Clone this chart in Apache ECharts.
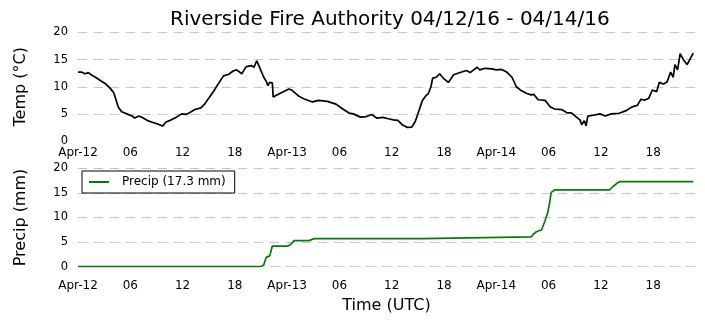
<!DOCTYPE html>
<html>
<head>
<meta charset="utf-8">
<script src="https://cdn.jsdelivr.net/npm/echarts@6/dist/echarts.min.js"></script>
<style>
  html, body { margin: 0; padding: 0; background: #fff; }
  #chart { width: 705px; height: 328px; }
</style>
</head>
<body>
<div id="chart"></div>
<script>
// Hours since 2016-04-12 00:00 UTC
const tickLabels = ['Apr-12', '06', '12', '18', 'Apr-13', '06', '12', '18', 'Apr-14', '06', '12', '18'];

const tempHours = [0.0, 0.4, 0.8, 1.2, 1.6, 2.0, 2.6, 3.2, 3.7, 4.1, 4.4, 4.6, 5.0, 5.6, 6.2, 6.5, 7.0, 7.5, 8.0, 8.6, 9.2, 9.7,
  10.1, 10.7, 11.3, 11.9, 12.4, 12.8, 13.4, 14.1, 14.5, 15.1, 15.6, 16.2, 16.7, 17.3, 17.8, 18.2, 18.8, 19.3, 19.9,
  20.2, 20.5, 20.8, 21.3, 21.6, 21.8, 22.0, 22.3, 22.4, 23.1, 24.2, 24.6, 25.3, 25.9, 26.9, 27.6, 28.6, 29.6,
  30.3, 31.1, 31.6, 32.4, 33.1, 33.7, 34.3, 35.0, 35.6, 36.2, 36.7, 37.2, 37.8, 38.3, 38.7, 39.1, 39.5, 39.9,
  40.2, 40.5, 40.7, 41.1, 41.5, 41.9, 42.5, 43.1, 43.6, 44.2, 44.6, 45.0, 45.4, 45.8, 46.1, 46.7, 47.5, 48.0,
  48.6, 49.2, 49.8, 50.3, 50.9, 51.5, 52.0, 52.3, 52.8, 53.6, 54.2, 54.7, 55.5, 56.1, 56.6, 57.2, 57.6, 57.8,
  58.1, 58.3, 58.5, 59.1, 59.9, 60.5, 61.2, 62.1, 62.9, 63.6, 64.2, 64.6, 65.0, 65.5, 65.9, 66.4, 66.7, 67.2,
  67.6, 68.0, 68.3, 68.5, 68.8, 69.1, 69.5, 69.9, 70.1, 70.6];
const tempValues = [12.7, 12.7, 12.4, 12.6, 12.1, 11.75, 11.1, 10.5, 9.7, 8.9, 7.4, 6.3, 5.4, 5.0, 4.6, 4.25, 4.6, 4.25, 3.75, 3.4, 3.1, 2.75,
  3.5, 3.9, 4.4, 5.0, 4.9, 5.2, 5.8, 6.1, 6.75, 8.1, 9.25, 10.8, 12.0, 12.3, 12.9, 13.1, 12.4, 13.7, 13.9,
  13.6, 14.8, 13.7, 11.8, 11.0, 10.2, 10.8, 10.7, 8.1, 8.7, 9.6, 9.3, 8.3, 7.8, 7.2, 7.5, 7.3, 6.8,
  6.0, 5.15, 5.0, 4.4, 4.5, 4.9, 4.2, 4.35, 4.1, 3.9, 3.8, 3.0, 2.5, 2.55, 3.6, 5.5, 7.4, 8.3,
  8.75, 10.0, 11.6, 11.75, 12.4, 11.6, 10.8, 12.2, 12.5, 12.8, 13.0, 12.6, 13.1, 13.6, 13.1, 13.4, 13.3, 13.1,
  13.2, 12.7, 11.75, 10.0, 9.25, 8.75, 8.5, 8.6, 7.6, 7.5, 6.25, 5.9, 5.8, 5.2, 5.2, 4.4, 3.9, 3.0,
  3.75, 2.8, 4.6, 4.75, 5.0, 4.6, 5.0, 5.1, 5.6, 6.3, 6.6, 7.7, 7.5, 7.9, 9.4, 9.1, 10.8, 10.5,
  10.9, 12.7, 11.75, 14.1, 13.1, 16.1, 14.9, 14.1, 14.0, 16.2];

const precipHours = [0, 20.9, 21.3, 21.6, 22.0, 22.3, 24.1, 24.4, 24.8, 26.5, 26.8, 27.1, 39.4, 39.6, 52.0, 52.2, 52.6, 53.2,
  53.6, 53.9, 54.1, 54.3, 54.7, 61.0, 61.4, 61.8, 62.2, 70.6];
const precipValues = [0, 0, 0.3, 1.9, 2.2, 4.2, 4.2, 4.5, 5.3, 5.3, 5.5, 5.7, 5.7, 6.05, 6.05, 6.5, 7.1, 7.5,
  9.4, 11.0, 12.8, 15.1, 15.6, 15.6, 16.3, 16.9, 17.3, 17.3];

const precipTotal = '17.3';
const titleText = 'Riverside Fire Authority 04/12/16 - 04/14/16';

const FONT = 'DejaVu Sans';
const zip = (a, b) => a.map((v, i) => [v, b[i]]);

const xLabelFmt = v => {
  const idx = v / 6;
  return Number.isInteger(idx) && idx < tickLabels.length ? tickLabels[idx] : '';
};

const gridLine = { show: true, lineStyle: { color: '#c4c4c4', width: 1, type: [9, 7] } };

const xCommon = (gi, margin, extra) => Object.assign({
  type: 'value', gridIndex: gi, min: 0, max: 70.8, interval: 6,
  axisLine: { show: false }, axisTick: { show: false }, splitLine: { show: false },
  axisLabel: { formatter: xLabelFmt, margin: margin, fontFamily: FONT, fontSize: 12, color: '#000', showMaxLabel: false }
}, extra || {});

const yCommon = (gi, name, showMin, extra) => Object.assign({
  type: 'value', gridIndex: gi, min: 0, max: 20, interval: 5,
  name: name, nameLocation: 'middle', nameGap: 49,
  nameTextStyle: { fontFamily: FONT, fontSize: 16, color: '#000' },
  axisLine: { show: false }, axisTick: { show: false },
  splitLine: Object.assign({ showMinLine: showMin, showMaxLine: true }, gridLine),
  axisLabel: { margin: 10, fontFamily: FONT, fontSize: 11.5, color: '#000' }
}, extra || {});

const chart = echarts.init(document.getElementById('chart'), null, { renderer: 'canvas' });
chart.setOption({
  animation: false,
  backgroundColor: '#fff',
  title: {
    text: titleText, left: 165, top: 5,
    textStyle: { fontFamily: FONT, fontSize: 20, fontWeight: 'normal', color: '#000' }
  },
  legend: {
    data: [{ name: 'Precip (' + precipTotal + ' mm)', icon: 'rect' }],
    left: 82, top: 171,
    orient: 'vertical',
    backgroundColor: '#fff', borderColor: '#000', borderWidth: 1, borderRadius: 0,
    padding: [4, 9, 4, 7],
    itemWidth: 20, itemHeight: 2,
    textStyle: { fontFamily: FONT, fontSize: 12, color: '#000', padding: [0, 0, 0, 8], lineHeight: 14 }
  },
  grid: [
    { left: 78, right: 10, top: 32.5, height: 108.5 },
    { left: 78, right: 10, top: 168.3, height: 98.4 }
  ],
  xAxis: [
    xCommon(0, 6),
    xCommon(1, 13, { name: 'Time (UTC)', nameLocation: 'middle', nameGap: 31,
      nameTextStyle: { fontFamily: FONT, fontSize: 16, color: '#000' } })
  ],
  yAxis: [
    yCommon(0, 'Temp (°C)', false),
    yCommon(1, 'Precip (mm)', true)
  ],
  series: [
    {
      type: 'line', xAxisIndex: 0, yAxisIndex: 0,
      data: zip(tempHours, tempValues),
      symbol: 'none', lineStyle: { color: '#000', width: 1.7 }, itemStyle: { color: '#000' }
    },
    {
      name: 'Precip (' + precipTotal + ' mm)',
      type: 'line', xAxisIndex: 1, yAxisIndex: 1,
      data: zip(precipHours, precipValues),
      symbol: 'none', lineStyle: { color: '#0a780a', width: 1.7 }, itemStyle: { color: '#0a780a' }
    }
  ]
});
</script>
</body>
</html>
